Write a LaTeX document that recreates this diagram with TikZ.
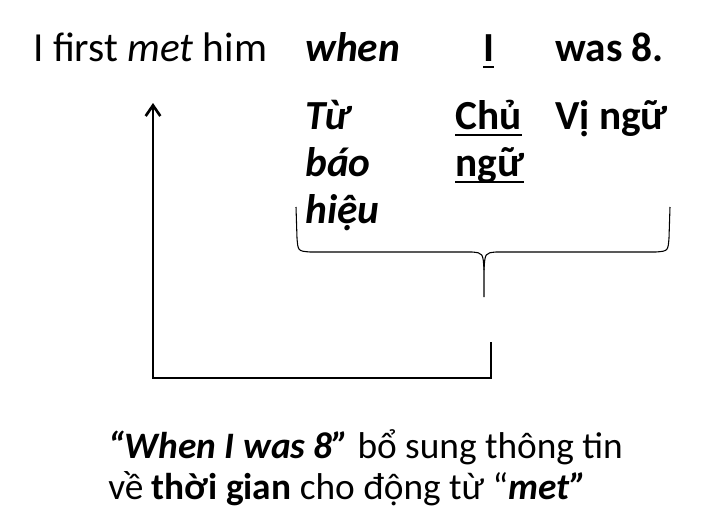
\documentclass[tikz,border=0pt]{standalone}
\usepackage{fontspec}
\setmainfont{Carlito}
\usepackage{tikz}
\usetikzlibrary{positioning, arrows.meta}

\newcommand{\ulthick}[1]{\setbox0=\hbox{#1}\rlap{\copy0}\rule[-5pt]{\wd0}{1.6pt}}

\tikzset{
  word/.style = {anchor = base west, inner sep = 0pt, font = \fontsize{31}{37}\selectfont},
  note/.style = {anchor = base west, inner sep = 0pt, font = \fontsize{28}{34}\selectfont},
  link/.style = {line width = 2pt},
  brace/.style = {line width = 0.8pt}
}

\begin{document}
\begin{tikzpicture}[x = 0.75pt, y = -0.75pt]
\useasboundingbox (0,0) rectangle (718,522);
% sentence
\node[word] (main) at (33,61) {I first {\itshape met} him};
\node[word] (when) at (305,61) {\bfseries\itshape when};
\node[word] (subj) at (483,61) {\bfseries\ulthick{I}};
\node[word] (pred) at (555,61) {\textbf{was 8.}};
% labels
\node[word] (tu1) at (305,129) {\bfseries\itshape Từ};
\node[word] (tu2) at (305,176) {\bfseries\itshape báo};
\node[word] (tu3) at (305,223) {\bfseries\itshape hiệu};
\node[word] (cn1) at (455,129) {\bfseries\ulthick{Chủ}};
\node[word] (cn2) at (455,176) {\bfseries\ulthick{ngữ}};
\node[word] (vn) at (555,129) {\textbf{Vị ngữ}};
% brace under the clause
\draw[brace] (296,207) -- (297,238) .. controls (298,251) .. (310,252)
  -- (472,252) .. controls (483,253) .. (484,270) -- (484,297);
\draw[brace] (670,207) -- (669,238) .. controls (668,251) .. (656,252)
  -- (496,252) .. controls (485,253) .. (484,270);
\coordinate (tip) at (491,342);
\coordinate (corner1) at (491,378);
\coordinate (corner2) at (153,378);
\coordinate (head) at (153,103);
\draw[link, -{Straight Barb[length=8pt, width=11pt]}] (tip) -- (corner1) -- (corner2) -- (head);
% note
\node[note] (note1) at (108,458) {{\bfseries\itshape “When I was 8”} bổ sung thông tin};
\node[note] (note2) at (108,499) {về \textbf{thời gian} cho động từ “{\bfseries\itshape met”}};
\end{tikzpicture}
\end{document}
